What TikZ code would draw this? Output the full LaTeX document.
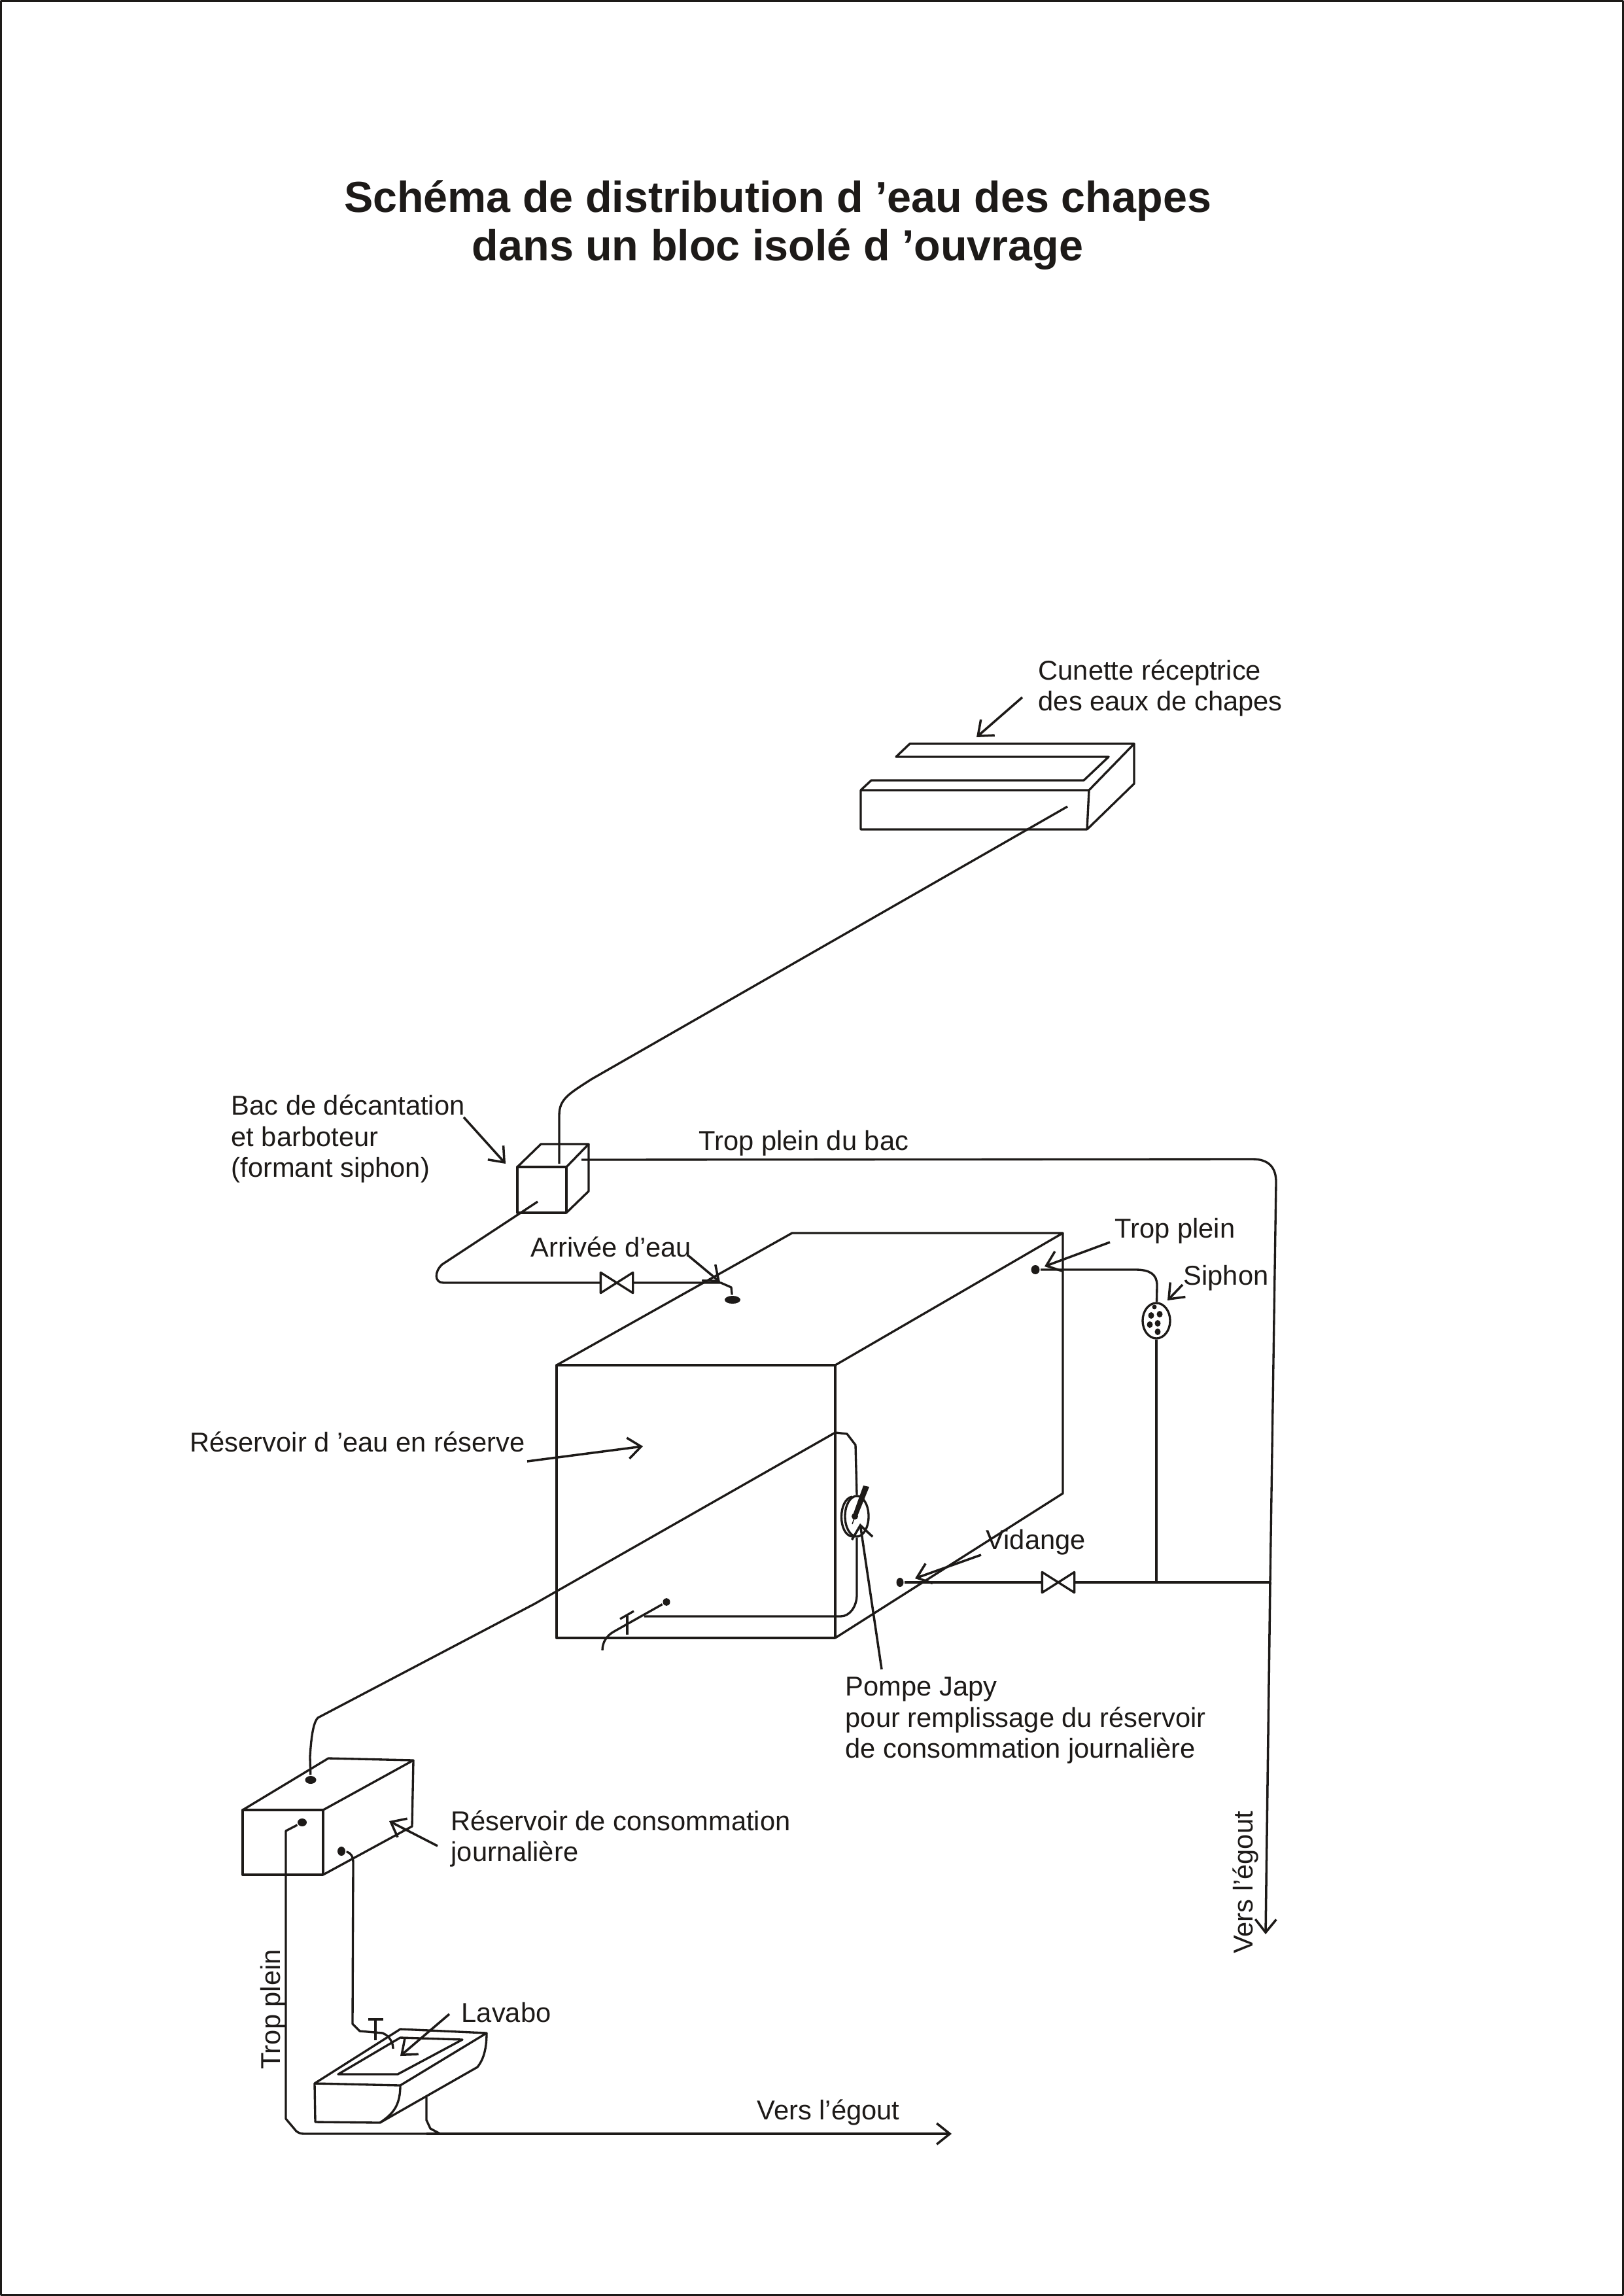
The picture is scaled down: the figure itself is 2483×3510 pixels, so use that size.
\documentclass[tikz,border=0pt]{standalone}
\usepackage{fontspec}
\setmainfont{Liberation Sans}
\usepackage{xcolor}
\usetikzlibrary{arrows.meta,shapes.geometric}
\definecolor{ink}{HTML}{1D1A18}

\begin{document}
\begin{tikzpicture}[
    x=0.01cm, y=-0.01cm,
    color=ink,
    line width=0.95pt,
    line join=round,
    >={Straight Barb[length=2mm,width=3.2mm]},
    label/.style={inner sep=0, anchor=west, align=left, font=\fontsize{11.85}{13.4}\selectfont},
    title/.style={inner sep=0, align=center, font=\fontsize{18.9}{21}\selectfont\bfseries},
    bulb/.style={ellipse, fill=ink, inner sep=0, minimum width=1.3mm, minimum height=1.4mm},
    speck/.style={ellipse, fill=ink, inner sep=0, minimum width=0.9mm, minimum height=1mm},
    valvebox/.style={inner sep=0, minimum width=4.6mm, minimum height=2.8mm},
    flow/.style={->, line width=1pt},
    pipe/.style={line width=0.95pt}
]
\useasboundingbox (0,0) rectangle (2483,3510);
\draw[line width=0.9pt] (1.5,1.5) rectangle (2481.5,3508.5);

% texts
\node[title] (titre) at (1189,344) {Schéma de distribution d ’eau des chapes\\dans un bloc isolé d ’ouvrage};
\node[label] (lcunette) at (1586,1052) {Cunette réceptrice\\des eaux de chapes};
\node[label] (lbac) at (352,1741) {Bac de décantation\\et barboteur\\(formant siphon)};
\node[label] (ltropbac) at (1067,1748) {Trop plein du bac};
\node[label] (larrivee) at (810,1906) {Arrivée d’eau};
\node[label] (ltrop) at (1703,1882) {Trop plein};
\node[label] (lsiphon) at (1808,1954) {Siphon};
\node[label] (lreserve) at (289,2204) {Réservoir d ’eau en réserve};
\node[label] (lvidange) at (1506,2358) {Vidange};
\node[label] (lpompe) at (1291,2630) {Pompe Japy\\pour remplissage du réservoir\\de consommation journalière};
\node[label] (ljour) at (688,2811) {Réservoir de consommation\\journalière};
\node[label] (llavabo) at (704,3077) {Lavabo};
\node[label] (legout) at (1156,3229) {Vers l’égout};
\node[label, anchor=center, rotate=90] (lvers) at (1904,2878) {Vers l’égout};
\node[label, anchor=center, rotate=90] (ltropj) at (418,3072) {Trop plein};

% cunette
\draw (1316,1208) -- (1665,1208) -- (1662,1268) -- (1316,1268) -- cycle;
\draw (1316,1208) -- (1332,1193) -- (1657,1193) -- (1695,1157) -- (1370,1157) -- (1391,1137) -- (1734,1137) -- (1665,1208);
\draw (1734,1137) -- (1734,1198) -- (1662,1268);

% bac
\draw (791,1784) rectangle (866,1854);
\draw (791,1784) -- (827,1749) -- (900,1749) -- (866,1784);
\draw (900,1749) -- (900,1821) -- (866,1854);

% reservoir
\draw (851,2087) rectangle (1277,2504);
\draw (851,2087) -- (1211,1885) -- (1625,1885) -- (1277,2087);
\draw (1625,1885) -- (1625,2283) -- (1277,2504);

% reservoir journalier
\draw (371,2767) rectangle (494,2866);
\draw (371,2767) -- (502,2688) -- (632,2691) -- (494,2767);
\draw (632,2691) -- (630,2792) -- (494,2866);

% lavabo
\draw (481,3185) -- (612,3102) -- (744,3108) -- (612,3188) -- cycle;
\draw (517,3171) -- (612,3115) -- (707,3118) -- (608,3171) -- cycle;
\draw (481,3185) -- (482,3244) -- (581,3245) .. controls (600,3232) and (612,3220) .. (612,3188);
\draw (581,3245) -- (730,3160) .. controls (738,3150) and (744,3135) .. (744,3108);

% points
\node[bulb, minimum width=2.4mm, minimum height=1.2mm] (parrivee) at (1120,1987) {};
\node[bulb] (ptrop) at (1583,1941) {};
\node[bulb, minimum width=1.1mm] (pvidange) at (1376,2419) {};
\node[bulb, minimum width=1.1mm, minimum height=1.2mm] (ppompe) at (1019,2449) {};
\node[bulb, minimum width=1.7mm, minimum height=1.2mm] (pentree) at (475,2721) {};
\node[bulb, minimum width=1.4mm, minimum height=1.2mm] (pjtrop) at (462,2786) {};
\node[bulb, minimum width=1.2mm] (plavabo) at (522,2830) {};
\node[ellipse, draw, inner sep=0, minimum width=4.2mm, minimum height=5.4mm] (siphon) at (1768,2019) {};
\node[speck, minimum width=0.7mm, minimum height=0.7mm] (s1) at (1765,1998) {};
\node[speck] (s2) at (1773,2009) {};
\node[speck] (s3) at (1760,2011) {};
\node[speck] (s4) at (1758,2025) {};
\node[speck] (s5) at (1770,2023) {};
\node[speck] (s6) at (1770,2036) {};
\node[valvebox] (vanneA) at (943,1961) {};
\node[valvebox] (vanneB) at (1618,2419) {};
\node[ellipse, draw, inner sep=0, minimum width=3.6mm, minimum height=6.2mm] (pompe) at (1310,2318) {};

% vannes
\draw (vanneA.north west) -- (vanneA.south east) -- (vanneA.north east) -- (vanneA.south west) -- cycle;
\draw (vanneB.north west) -- (vanneB.south east) -- (vanneB.north east) -- (vanneB.south west) -- cycle;

% pompe
\draw (1303,2288) .. controls (1281,2292) and (1281,2346) .. (1303,2349);
\fill (1304,2316) -- (1320,2271) -- (1329,2273) -- (1310,2320) -- cycle;
\node[bulb, minimum width=1mm, minimum height=1mm] (ppivot) at (1307,2318) {};
\draw[line width=0.4pt] (ppivot.center) -- (1303,2330);

% tuyaux
\coordinate (cuntuy) at (1632,1233);
\coordinate (bactuy) at (855,1779);
\coordinate (bacsor) at (822,1837);
\coordinate (bactrop) at (889,1773);
\coordinate (egoutA) at (1935,2957);
\coordinate (egoutB) at (1455,3262);
\coordinate (jonctionA) at (1942,2419);
\coordinate (jonctionB) at (1768,2419);
\coordinate (robinet) at (921,2523);
\coordinate (robinetB) at (601,3132);
\coordinate (lavtuy) at (652,3206);
\coordinate (arriveeA) at (1102,1961);
\coordinate (pomperef) at (985,2471);
\draw[pipe] (cuntuy) -- (904,1650) .. controls (870,1672) and (855,1680) .. (855,1705) -- (bactuy);
\draw[pipe] (bacsor) -- (676,1933) .. controls (664,1944) and (664,1961) .. (678,1961) -- (vanneA.west);
\draw[pipe] (vanneA.east) -- (arriveeA) -- (1118,1968) -- (parrivee);
\draw[pipe] (bactrop) -- (1915,1772) .. controls (1940,1772) and (1951,1785) .. (1951,1807) -- (jonctionA);
\draw[flow] (jonctionA) -- (egoutA);
\draw[pipe] (ptrop) -- (1736,1941) .. controls (1758,1941) and (1769,1948) .. (1769,1965) -- (siphon);
\draw[pipe] (siphon) -- (jonctionB);
\draw[pipe] (pvidange) -- (vanneB.west);
\draw[pipe] (vanneB.east) -- (jonctionA);
\draw[pipe] (pentree) -- (474,2686) .. controls (476,2650) and (480,2632) .. (486,2626) -- (817,2452) -- (1277,2190) -- (1295,2192) -- (1308,2209) -- (pompe.north);
\draw[pipe] (pompe.south) -- (1310,2438) .. controls (1310,2455) and (1300,2471) .. (1285,2471) -- (pomperef);
\draw[pipe] (ppompe) -- (939,2494) .. controls (928,2500) and (921,2510) .. (robinet);
\draw (959,2499) -- (959,2470);
\draw (948,2475) -- (969,2463);
\draw[pipe] (pjtrop) -- (437,2799) -- (437,3239) -- (453,3258) .. controls (457,3261) and (460,3262) .. (466,3262) -- (lavtuy |- egoutB);
\draw[flow] (lavtuy |- egoutB) -- (egoutB);
\draw[pipe] (plavabo) -- (530,2831) .. controls (537,2833) and (540,2838) .. (540,2848) -- (539,3094) -- (550,3105) -- (585,3108) .. controls (595,3112) and (601,3122) .. (robinetB);
\draw (574,3119) -- (574,3087);
\draw (563,3087) -- (586,3087);
\draw[pipe] (lavtuy) -- (652,3241) -- (658,3254) -- (673,3262);

% fleches
\coordinate (acunA) at (1563,1066);
\coordinate (acunB) at (1493,1127);
\coordinate (abacA) at (709,1708);
\coordinate (abacB) at (773,1779);
\coordinate (aarrA) at (1053,1920);
\coordinate (aarrB) at (1101,1960);
\coordinate (atroA) at (1697,1899);
\coordinate (atroB) at (1597,1936);
\coordinate (asipA) at (1808,1964);
\coordinate (asipB) at (1785,1988);
\coordinate (aresA) at (806,2234);
\coordinate (aresB) at (983,2211);
\coordinate (avidA) at (1500,2377);
\coordinate (avidB) at (1399,2413);
\coordinate (apomA) at (1348,2552);
\coordinate (apomB) at (1315,2329);
\coordinate (ajouA) at (669,2822);
\coordinate (ajouB) at (595,2784);
\coordinate (alavA) at (687,3079);
\coordinate (alavB) at (612,3143);
\draw[flow] (acunA) -- (acunB);
\draw[flow] (abacA) -- (abacB);
\draw[flow] (aarrA) -- (aarrB);
\draw[flow] (atroA) -- (atroB);
\draw[flow] (asipA) -- (asipB);
\draw[flow] (aresA) -- (aresB);
\draw[flow] (avidA) -- (avidB);
\draw[flow] (apomA) -- (apomB);
\draw[flow] (ajouA) -- (ajouB);
\draw[flow] (alavA) -- (alavB);
\end{tikzpicture}
\end{document}
